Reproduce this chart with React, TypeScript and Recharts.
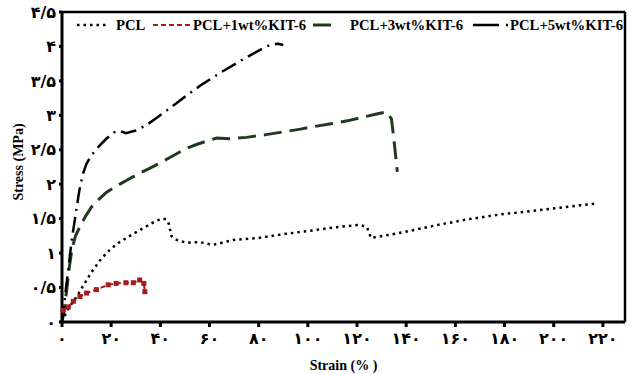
import React from 'react';
import { LineChart, Line, XAxis, YAxis, Legend, ReferenceLine } from 'recharts';

// strain (%) / stress (MPa)
const pclStrain = [0, 1.2, 3, 6, 9, 12.7, 16, 19.5, 23, 26.2, 30, 34.4, 38.4, 41, 42.5, 43.5, 44.5, 46, 50.6, 56, 61.4, 65, 69.5, 80, 91, 100, 110, 121, 124, 125.7, 137, 153, 165, 178, 198, 217];
const pclStress = [0, 0.1, 0.22, 0.37, 0.55, 0.76, 0.92, 1.05, 1.15, 1.22, 1.3, 1.39, 1.47, 1.5, 1.49, 1.42, 1.25, 1.2, 1.15, 1.16, 1.12, 1.15, 1.19, 1.22, 1.28, 1.32, 1.37, 1.41, 1.38, 1.22, 1.29, 1.41, 1.49, 1.56, 1.64, 1.72];

const kit1Strain = [0, 0.5, 2.6, 4.6, 7.3, 10, 14, 18.8, 22, 26, 29, 31.6, 33.3, 33.7];
const kit1Stress = [0, 0.17, 0.22, 0.3, 0.37, 0.42, 0.47, 0.54, 0.56, 0.57, 0.57, 0.61, 0.56, 0.44];

const kit3Strain = [0, 1, 2, 3, 4, 5.5, 7.5, 9.5, 12, 15, 18, 22, 26, 30, 35, 40, 45, 50, 55, 60, 63, 68, 75, 83, 90, 97, 103, 110, 116, 122, 128, 132, 134, 135, 136.4];
const kit3Stress = [0, 0.2, 0.5, 0.8, 1.05, 1.25, 1.4, 1.53, 1.67, 1.78, 1.88, 1.97, 2.05, 2.13, 2.22, 2.31, 2.41, 2.51, 2.58, 2.64, 2.67, 2.66, 2.68, 2.72, 2.76, 2.8, 2.84, 2.88, 2.92, 2.97, 3.02, 3.05, 2.95, 2.65, 2.18];

const kit5Strain = [0, 0.5, 1.2, 2, 3, 4, 5.5, 7, 8.5, 10, 12, 15, 18, 21, 23, 26, 30, 34, 38, 43, 50, 57, 65, 73, 80, 85, 88, 90];
const kit5Stress = [0, 0.1, 0.37, 0.6, 0.9, 1.2, 1.55, 1.9, 2.15, 2.3, 2.42, 2.55, 2.66, 2.75, 2.78, 2.74, 2.78, 2.85, 2.95, 3.08, 3.27, 3.45, 3.63, 3.8, 3.94, 4.03, 4.04, 4.02];

const xTicks = [0, 20, 40, 60, 80, 100, 120, 140, 160, 180, 200, 220];
const yTicks = [0, 0.5, 1, 1.5, 2, 2.5, 3, 3.5, 4, 4.5];

const zip = (xs: number[], ys: number[]) => xs.map((x, i) => ({ x, y: ys[i] }));

const pclData = zip(pclStrain, pclStress);
const kit1Data = zip(kit1Strain, kit1Stress);
const kit3Data = zip(kit3Strain, kit3Stress);
const kit5Data = zip(kit5Strain, kit5Stress);

const faDigits = '۰۱۲۳۴۵۶۷۸۹';
const toPersian = (v: number) =>
  String(v).replace(/[0-9]/g, (d) => faDigits[Number(d)]).replace('.', '/');

const serif = '"Liberation Serif", "DejaVu Serif", serif';
const tickFont = { fontFamily: '"DejaVu Sans", sans-serif', fontSize: 16, fontWeight: 700, fill: '#000' };
const yTickFont = { ...tickFont, letterSpacing: -2 };

// legend layout: sample start/end and text start, in chart pixels
const legendItems = [
  { name: 'PCL', color: '#000', dash: '2.5 4', width: 2.5, x1: 77, x2: 108, tx: 116 },
  { name: 'PCL+1wt%KIT-6', color: '#a51c1c', dash: '5 3', width: 2, x1: 153, x2: 191, tx: 193 },
  { name: 'PCL+3wt%KIT-6', color: '#1f3a1f', dash: '18 8', width: 3, x1: 313, x2: 337, tx: 350 },
  { name: 'PCL+5wt%KIT-6', color: '#000', dash: '26 7 2 6', width: 2.5, x1: 473, x2: 510, tx: 510 },
];

// zero-height box so the legend does not shrink the plot area
function LegendBox() {
  return (
    <div style={{ position: 'relative', width: 633, height: 0, overflow: 'visible' }}>
      <svg width={633} height={40} style={{ position: 'absolute', left: 0, top: 0, overflow: 'visible' }}>
        {legendItems.map((s) => (
          <line key={s.name} x1={s.x1} y1={25} x2={s.x2} y2={25} stroke={s.color} strokeWidth={s.width} strokeDasharray={s.dash} />
        ))}
      </svg>
      {legendItems.map((s) => (
        <span
          key={s.name}
          style={{ position: 'absolute', left: s.tx, top: 15, fontFamily: serif, fontWeight: 700, fontSize: 14.7, lineHeight: '20px', color: '#000', whiteSpace: 'nowrap' }}
        >
          {s.name}
        </span>
      ))}
    </div>
  );
}

const Square = (props: any) => {
  const { cx, cy, index } = props;
  if (cx == null || cy == null || index === 0) return <g key={index} />;
  return <rect key={index} x={cx - 2.5} y={cy - 2.5} width={5} height={5} fill="#a51c1c" />;
};

export default function App() {
  return (
    <div style={{ position: 'fixed', left: 0, top: 0, background: '#fff' }}>
      <LineChart width={633} height={374} margin={{ top: 12, right: 8, bottom: 22, left: 12 }}>
        <XAxis
          type="number"
          dataKey="x"
          domain={[0, 229]}
          ticks={xTicks}
          tickFormatter={toPersian}
          tick={tickFont}
          tickSize={5}
          tickMargin={6}
          height={30}
          stroke="#000"
          strokeWidth={3}
          allowDuplicatedCategory={false}
          label={{ value: 'Strain (% )', position: 'insideBottom', offset: -18, style: { fontFamily: serif, fontSize: 14, fontWeight: 700, fill: '#000' } }}
        />
        <YAxis
          type="number"
          dataKey="y"
          domain={[0, 4.5]}
          ticks={yTicks}
          tickFormatter={toPersian}
          tick={yTickFont}
          tickSize={3}
          tickMargin={3}
          width={50}
          stroke="#000"
          strokeWidth={3}
          label={{ value: 'Stress (MPa)', angle: -90, position: 'insideLeft', offset: 6, dy: -5, style: { fontFamily: serif, fontSize: 14, fontWeight: 700, fill: '#000', textAnchor: 'middle' } }}
        />
        <ReferenceLine y={4.5} stroke="#000" strokeWidth={2.5} />
        <ReferenceLine x={229} stroke="#000" strokeWidth={2.5} />
        <Legend verticalAlign="top" content={() => <LegendBox />} wrapperStyle={{ top: 0, left: 0, width: 633, height: 0, overflow: 'visible' }} />
        <Line data={pclData} dataKey="y" name="PCL" type="linear" stroke="#000" strokeWidth={2.5} strokeDasharray="2.5 4" dot={false} isAnimationActive={false} />
        <Line data={kit3Data} dataKey="y" name="PCL+3wt%KIT-6" type="linear" stroke="#1f3a1f" strokeWidth={3} strokeDasharray="18 8" dot={false} isAnimationActive={false} />
        <Line data={kit5Data} dataKey="y" name="PCL+5wt%KIT-6" type="linear" stroke="#000" strokeWidth={2.5} strokeDasharray="16 6 2 6" dot={false} isAnimationActive={false} />
        <Line data={kit1Data} dataKey="y" name="PCL+1wt%KIT-6" type="linear" stroke="#a51c1c" strokeWidth={2} strokeDasharray="5 3" dot={Square} isAnimationActive={false} />
      </LineChart>
    </div>
  );
}
